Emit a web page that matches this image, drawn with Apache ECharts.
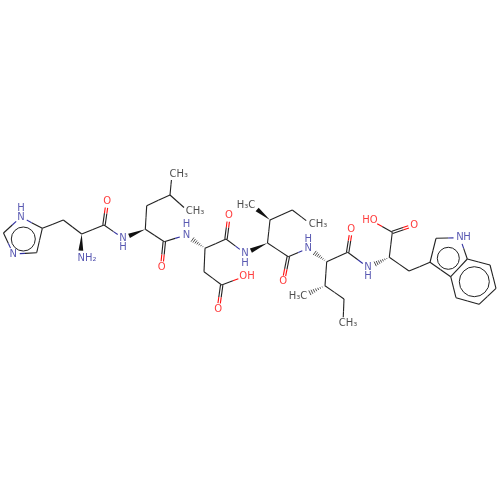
<!DOCTYPE html>
<html><head><meta charset="utf-8">
<script src="https://cdn.jsdelivr.net/npm/echarts@6/dist/echarts.min.js"></script>
<style>html,body{margin:0;padding:0;background:#fff}#c{width:500px;height:500px}</style>
</head><body><div id="c"></div>
<script>
// Atoms of the drawn molecule
const atomNames = ['N1','C2','N3','C4','C5','HB','HA','HN','HC','HO','LN','LA','LB','LG','LD1','LD2','LC','LO','DN','DA','DC','DO','DB','DG','DOH','DO2','IN','IA','IB','IMe','IG','ID','IC','IO','JN','JA','JC','JO','JB','JMe','JG','JD','KN','KA','KC','KO','KOH','TB','T3','T2','T1','T7a','T3a','T4','T5','T6','T7'];
const atomX = [21,3.5,13.3,36.7,42.3,63.3,81.7,80.5,104,107.3,123,145.3,146.7,170,172,188.5,164.3,161.7,186,205,226,229,204,221.7,244,218.3,245,267.5,270,252.5,292.3,311,288.3,283.3,308.3,326.7,347.7,351.3,325,303,344,343,368,389.3,392.3,414.3,372,409,430,436,460,467.3,450.7,456,479,496,490];
const atomY = [217,233,254,252.7,228.3,220,234,257,225,201.7,238.3,229.3,205.7,195,174,211.5,241.7,267.3,235,248.3,239,215.7,271.7,285,276.7,309.3,253.3,243,220,205.7,210,224.3,256.7,281.7,248.3,261.7,252.3,229.3,285.7,296,299,323.3,267.3,257.3,232.3,225,220.7,271,262.3,238.3,237.7,259,276.7,297.7,304.3,288.3,265];
const atomElements = ['N','C','N','C','C','C','C','N','C','O','N','C','C','C','M','M','C','O','N','C','C','O','C','C','O','O','N','C','C','M','C','M','C','O','N','C','C','O','C','M','C','M','N','C','C','O','O','C','C','C','N','C','C','C','C','C','C'];
// Bonds by kind, as pairs of atom names
const singleBonds = [['N1','C2'],['C2','N3'],['N3','C4'],['C4','C5'],['C5','N1'],['C5','HB'],['HB','HA'],['HA','HC'],['HC','LN'],['LA','LB'],['LB','LG'],['LG','LD1'],['LG','LD2'],['LA','LC'],['LC','DN'],['DA','DC'],['DC','IN'],['DA','DB'],['DB','DG'],['DG','DOH'],['IA','IB'],['IB','IG'],['IG','ID'],['IA','IC'],['IC','JN'],['JA','JC'],['JC','KN'],['JA','JB'],['JB','JG'],['JG','JD'],['KA','KC'],['KC','KOH'],['KA','TB'],['TB','T3'],['T3','T2'],['T2','T1'],['T1','T7a'],['T7a','T3a'],['T3a','T3'],['T3a','T4'],['T4','T5'],['T5','T6'],['T6','T7'],['T7','T7a']];
const doubleBonds = [['HC','HO'],['LC','LO'],['DC','DO'],['DG','DO2'],['IC','IO'],['JC','JO'],['KC','KO']];
const wedgeBonds = [['HA','HN'],['LA','LN'],['IA','IN'],['IB','IMe']];
const hashBonds = [['DA','DN'],['JA','JN'],['JB','JMe'],['KA','KN']];
// Aromatic rings: centre and radius in data units
const ringX = [23.3,448.3,474.3];
const ringY = [239,258.3,281.7];
const ringR = [12,11,15];
// Text labels
const labelTexts = ['N','H','N','NH₂','O','N','H','CH₃','CH₃','O','N','H','O','OH','O','N','H','H₃C','CH₃','O','N','H','O','H₃C','CH₃','N','H','O','HO','N','H'];
const labelX = [21,21,13.3,87,107.3,123,123,178.7,195,161.7,186.5,186.5,229,247,218.3,245,245,246,318,283.3,308.3,308.3,351.3,298,348,368,368,414.3,370,460,467];
const labelY = [217,208,254,258,201.7,238.3,247.7,174,211.5,267.3,235,224.5,215.7,276.7,309.3,253.3,263,205.7,224.3,281.7,248.3,239.3,229.3,296,323.3,267.3,276.7,225,220.7,237.7,237.7];
const labelElements = ['N','N','N','N','O','N','N','M','M','O','N','N','O','O','O','N','N','M','M','O','N','N','O','M','M','N','N','O','O','N','N'];

const COLORS = {C:'#222222', M:'#222222', N:'#2f2f9f', O:'#ff0d0d'};
const GAPS = {C:0, M:6, N:6.5, O:6};
const allBonds = [].concat(
  singleBonds.map(b=>[b[0],b[1],'s']), doubleBonds.map(b=>[b[0],b[1],'d']),
  wedgeBonds.map(b=>[b[0],b[1],'w']), hashBonds.map(b=>[b[0],b[1],'h']));
const idx = n => atomNames.indexOf(n);
const bondRows = allBonds.map(b=>{const p=idx(b[0]),q=idx(b[1]);return [atomX[p],atomY[p],atomX[q],atomY[q]];});

function renderBond(params, api){
  const bond = allBonds[params.dataIndex];
  const p = api.coord([api.value(0),api.value(1)]);
  const q = api.coord([api.value(2),api.value(3)]);
  const ea = atomElements[idx(bond[0])], eb = atomElements[idx(bond[1])];
  const kind = bond[2];
  const dx=q[0]-p[0], dy=q[1]-p[1], len=Math.hypot(dx,dy), ux=dx/len, uy=dy/len, nx=-uy, ny=ux;
  const ga=GAPS[ea], gb=GAPS[eb];
  const kids=[];
  const ax=p[0]+ux*ga, ay=p[1]+uy*ga, bx=q[0]-ux*gb, by=q[1]-uy*gb;
  if(kind==='w'){
    kids.push({type:'polygon',shape:{points:[[ax,ay],[bx+nx*2.4,by+ny*2.4],[bx-nx*2.4,by-ny*2.4]]},style:{fill:'#111'}});
  } else if(kind==='h'){
    const n=8;
    for(let k=0;k<n;k++){
      const t=(k+0.3)/n, cx=ax+(bx-ax)*t, cy=ay+(by-ay)*t, w=2.8*t;
      kids.push({type:'line',shape:{x1:cx-nx*w,y1:cy-ny*w,x2:cx+nx*w,y2:cy+ny*w},style:{stroke:'#222',lineWidth:0.8}});
    }
  } else {
    const offs = kind==='d'?[-1.2,1.2]:[0];
    const mx=(p[0]+q[0])/2,my=(p[1]+q[1])/2;
    offs.forEach(o=>{
      const ox=nx*o,oy=ny*o;
      kids.push({type:'line',shape:{x1:ax+ox,y1:ay+oy,x2:mx+ox,y2:my+oy},style:{stroke:COLORS[ea],lineWidth:1.1}});
      kids.push({type:'line',shape:{x1:mx+ox,y1:my+oy,x2:bx+ox,y2:by+oy},style:{stroke:COLORS[eb],lineWidth:1.1}});
    });
  }
  return {type:'group',children:kids};
}
function renderRing(params, api){
  const c=api.coord([api.value(0),api.value(1)]);
  const s=api.size([api.value(2),api.value(2)]);
  return {type:'circle',shape:{cx:c[0],cy:c[1],r:s[0]},style:{fill:'none',stroke:'#222',lineWidth:1}};
}
const chart = echarts.init(document.getElementById('c'),null,{renderer:'canvas'});
chart.setOption({
  animation:false, backgroundColor:'#fff',
  grid:{left:0,right:0,top:0,bottom:0},
  xAxis:{type:'value',min:0,max:500,show:false},
  yAxis:{type:'value',min:0,max:500,inverse:true,show:false},
  series:[
    {type:'custom',silent:true,clip:false,renderItem:renderBond,encode:{x:[0,2],y:[1,3]},data:bondRows},
    {type:'custom',silent:true,clip:false,renderItem:renderRing,encode:{x:0,y:1},data:ringX.map((x,i)=>[x,ringY[i],ringR[i]])},
    {type:'scatter',silent:true,symbolSize:0,
      data:labelTexts.map((t,i)=>({value:[labelX[i],labelY[i]],name:t,
        label:{show:true,position:'inside',formatter:t,color:COLORS[labelElements[i]],fontFamily:'DejaVu Sans',fontSize:10}}))}
  ]
});
</script></body></html>
